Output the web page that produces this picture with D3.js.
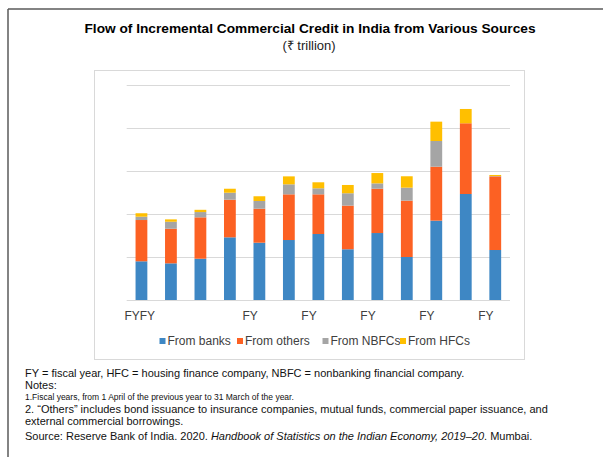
<!DOCTYPE html>
<html>
<head>
<meta charset="utf-8">
<script src="https://cdn.jsdelivr.net/npm/d3@7"></script>
<style>
  body { margin: 0; background: #fff; }
  text { font-family: "Liberation Sans", Arial, sans-serif; }
</style>
</head>
<body>
<div id="chart"></div>
<script>
// fiscal years FY2008..FY2020 (labels in the source picture are clipped)
var years = ['FY2008', 'FY2009', 'FY2010', 'FY2011', 'FY2012', 'FY2013', 'FY2014',
    'FY2015', 'FY2016', 'FY2017', 'FY2018', 'FY2019', 'FY2020'];
var tickLabels = ['FYFY', '', '', '', 'FY', '', 'FY', '', 'FY', '', 'FY', '', 'FY'];

var banks  = [3.60, 3.41, 3.84, 5.83, 5.33, 5.58, 6.14, 4.72, 6.23, 4.00, 7.38, 9.86, 4.65];
var others = [3.84, 3.22, 3.85, 3.50, 3.16, 4.25, 3.69, 4.06, 4.12, 5.24, 5.02, 6.58, 6.85];
var nbfcs  = [0.31, 0.65, 0.49, 0.65, 0.72, 0.93, 0.56, 1.15, 0.50, 1.21, 2.39, 0.00, 0.03];
var hfcs   = [0.32, 0.22, 0.21, 0.37, 0.44, 0.74, 0.56, 0.77, 0.96, 1.06, 1.80, 1.33, 0.10];

var seriesNames = ['From banks', 'From others', 'From NBFCs', 'From HFCs'];
var yTicks = [0, 4, 8, 12, 16, 20];

var colors = ['#3e87c4', '#fc6123', '#a5a5a5', '#ffbf00'];

var width = 603, height = 459;
var svg = d3.select('#chart')
    .append('svg')
    .attr('width', width)
    .attr('height', height);

// outer frame (left + top)
svg.append('line').attr('x1', 8).attr('y1', 9).attr('x2', 603).attr('y2', 9)
    .attr('stroke', '#5a5a5a').attr('stroke-width', 1.5);
svg.append('line').attr('x1', 8).attr('y1', 9).attr('x2', 8).attr('y2', 457)
    .attr('stroke', '#5a5a5a').attr('stroke-width', 1.5);

// title
svg.append('text')
    .attr('x', 310).attr('y', 33)
    .attr('text-anchor', 'middle')
    .style('font-size', '13.7px').style('font-weight', 'bold')
    .attr('fill', '#000')
    .text('Flow of Incremental Commercial Credit in India from Various Sources');
svg.append('text')
    .attr('x', 309).attr('y', 50)
    .attr('text-anchor', 'middle')
    .style('font-size', '13px')
    .attr('fill', '#222')
    .text('(₹ trillion)');

// chart area box
svg.append('rect')
    .attr('x', 94.5).attr('y', 70.5)
    .attr('width', 430).attr('height', 289)
    .attr('fill', 'none').attr('stroke', '#d9d9d9');

var plot = { left: 126.7, right: 510, top: 85, bottom: 300 };

var xScale = d3.scaleBand()
    .domain(years)
    .range([plot.left, plot.right])
    .paddingInner(0.6)
    .paddingOuter(0.3);

var yScale = d3.scaleLinear()
    .domain([0, 20])
    .range([plot.bottom, plot.top]);

// gridlines
var grid = svg.append('g')
    .attr('transform', `translate(${plot.left},0)`)
    .call(d3.axisLeft(yScale).tickValues(yTicks)
        .tickSize(-(plot.right - plot.left)).tickFormat(''));
grid.select('.domain').remove();
grid.selectAll('.tick line').attr('stroke', '#d9d9d9');

// stacked bars
var rows = years.map(function (y, i) {
    return { year: y, b: banks[i], o: others[i], n: nbfcs[i], h: hfcs[i] };
});
var stack = d3.stack().keys(['b', 'o', 'n', 'h'])(rows);

svg.append('g')
    .selectAll('g')
    .data(stack)
    .join('g')
    .attr('fill', function (d, i) { return colors[i]; })
    .selectAll('rect')
    .data(function (d) { return d; })
    .join('rect')
    .attr('x', function (d) { return xScale(d.data.year); })
    .attr('y', function (d) { return yScale(d[1]); })
    .attr('width', xScale.bandwidth())
    .attr('height', function (d) { return yScale(d[0]) - yScale(d[1]); });

// x axis labels (clipped "FY" labels as in source)
var xAxis = svg.append('g')
    .attr('transform', `translate(0,${plot.bottom})`)
    .call(d3.axisBottom(xScale).tickSize(0)
        .tickFormat(function (d, i) { return tickLabels[i]; }));
xAxis.select('.domain').remove();
xAxis.selectAll('text')
    .attr('text-anchor', 'start')
    .attr('dx', -17)
    .attr('y', 19.5)
    .attr('dy', 0)
    .style('font-size', '12px')
    .style('font-family', '"Liberation Sans", Arial, sans-serif')
    .attr('fill', '#404040');

// legend
var legendX = [159.5, 237, 322.5, 400];
var legend = svg.append('g')
    .selectAll('g')
    .data(seriesNames)
    .join('g')
    .attr('transform', function (d, i) { return `translate(${legendX[i]},338)`; });
legend.append('rect')
    .attr('width', 6).attr('height', 6)
    .attr('fill', function (d, i) { return colors[i]; });
legend.append('text')
    .attr('x', 8).attr('y', 6.5)
    .style('font-size', '12px')
    .attr('fill', '#404040')
    .text(function (d) { return d; });

// notes
var notes = svg.append('g').attr('fill', '#111');
notes.append('text').attr('x', 25).attr('y', 377).style('font-size', '11px')
    .text('FY = fiscal year, HFC = housing finance company, NBFC = nonbanking financial company.');
notes.append('text').attr('x', 25).attr('y', 389).style('font-size', '11px')
    .text('Notes:');
notes.append('text').attr('x', 25).attr('y', 400).style('font-size', '8.5px')
    .text('1.Fiscal years, from 1 April of the previous year to 31 March of the year.');
notes.append('text').attr('x', 25).attr('y', 413).style('font-size', '11px')
    .text('2. \u201cOthers\u201d includes bond issuance to insurance companies, mutual funds, commercial paper issuance, and');
notes.append('text').attr('x', 25).attr('y', 425).style('font-size', '11px')
    .text('external commercial borrowings.');
var src = notes.append('text').attr('x', 25).attr('y', 440).style('font-size', '11px');
src.append('tspan').text('Source: Reserve Bank of India. 2020. ');
src.append('tspan').style('font-style', 'italic')
    .text('Handbook of Statistics on the Indian Economy, 2019\u201320');
src.append('tspan').text('. Mumbai.');
</script>
</body>
</html>
